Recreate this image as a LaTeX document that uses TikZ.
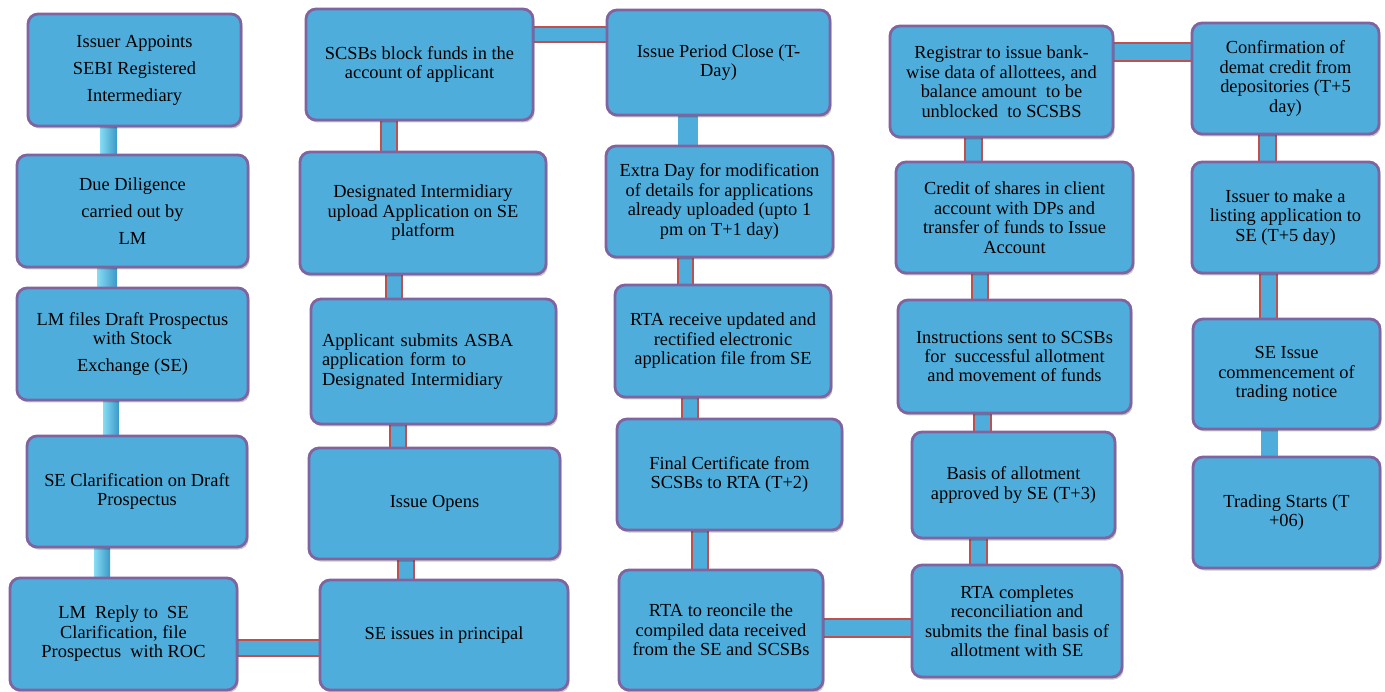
\documentclass[tikz,border=0pt]{standalone}
\usepackage{fontspec}
\setmainfont{Liberation Serif}
\usetikzlibrary{shadows}
\definecolor{boxblue}{HTML}{4FADDB}
\definecolor{boxpurple}{HTML}{8064A2}
\definecolor{barred}{HTML}{C0504D}
\definecolor{tubelight}{HTML}{B4EEFB}
\definecolor{tubemid}{HTML}{86DCF4}
\definecolor{tubedark}{HTML}{3A98C8}
\pgfdeclarelayer{bg}
\pgfsetlayers{bg,main}
\begin{document}
\begin{tikzpicture}[x=1pt,y=-1pt,
  box/.style={rectangle, rounded corners=10pt, draw=boxpurple, line width=2.8pt,
    fill=boxblue, inner sep=0pt, align=center, text=black,
    font=\fontsize{18.4}{19.5}\selectfont,
    drop shadow={shadow xshift=1.5pt, shadow yshift=-2.5pt, opacity=0.22, fill=black}},
  abox/.style={box, font=\fontsize{18.4}{27}\selectfont},
  rbar/.style={draw=barred, line width=2pt, double=boxblue, double distance=#1,
    shorten <=-4pt, shorten >=-4pt},
  pbar/.style={draw=boxblue, line width=#1, shorten <=-4pt, shorten >=-4pt},
  tube/.style={left color=tubemid, middle color=tubelight, right color=tubedark}
]
\useasboundingbox (0,0) rectangle (1385,692);

% Column A
\node[abox, minimum width=213pt, minimum height=112pt] (A1) at (134.5,70) {Issuer Appoints\\SEBI Registered\\Intermediary};
\node[abox, minimum width=231pt, minimum height=112pt] (A2) at (132.5,211) {Due Diligence\\carried out by\\LM};
\node[box, minimum width=231pt, minimum height=112pt] (A3) at (132.5,344) {LM files Draft Prospectus\\with Stock\\[7.5pt]Exchange (SE)};
\node[box, minimum width=220pt, minimum height=111pt] (A4) at (137,491.5) {SE Clarification on Draft\\Prospectus};
\node[box, minimum width=227pt, minimum height=112pt] (A5) at (123.5,634) {LM\ \ Reply to\ \ SE\\Clarification, file\\Prospectus\ \ with ROC};

% Column B
\node[box, minimum width=227pt, minimum height=111pt] (B1) at (419.5,64.5) {SCSBs block funds in the\\account of applicant};
\node[box, minimum width=246pt, minimum height=122pt] (B2) at (423,213) {Designated Intermidiary\\upload Application on SE\\platform};
\node[box, align=left, text width=223pt, inner xsep=11pt, minimum height=125pt] (B3) at (433.5,361.5) {Applicant submits ASBA\\application form to\\Designated Intermidiary};
\node[box, minimum width=251pt, minimum height=111pt] (B4) at (434.5,503.5) {Issue Opens};
\node[box, minimum width=248pt, minimum height=110pt] (B5) at (444,635) {SE issues in principal};

% Column C
\node[box, minimum width=223pt, minimum height=105pt] (C1) at (718.5,62.5) {Issue Period Close (T-\\Day)};
\node[box, minimum width=227pt, minimum height=111pt] (C2) at (719.5,201.5) {Extra Day for modification\\of details for applications\\already uploaded (upto 1\\pm on T+1 day)};
\node[box, minimum width=216pt, minimum height=112pt] (C3) at (723,341) {RTA receive updated and\\rectified electronic\\application file from SE};
\node[box, minimum width=225pt, minimum height=111pt] (C4) at (729.5,474.5) {Final Certificate from\\SCSBs to RTA (T+2)};
\node[box, minimum width=204pt, minimum height=120pt] (C5) at (721,630) {RTA to reoncile the\\compiled data received\\from the SE and SCSBs};

% Column D
\node[box, minimum width=223pt, minimum height=111pt] (D1) at (1001.5,81.5) {Registrar to issue bank-\\wise data of allottees, and\\balance amount\ \ to be\\unblocked\ \ to SCSBS};
\node[box, minimum width=237pt, minimum height=111pt] (D2) at (1014.5,217.5) {Credit of shares in client\\account with DPs and\\transfer of funds to Issue\\Account};
\node[box, minimum width=233pt, minimum height=113pt] (D3) at (1014.5,356.5) {Instructions sent to SCSBs\\for\ \ successful allotment\\and movement of funds};
\node[box, minimum width=203pt, minimum height=106pt] (D4) at (1013.5,485) {Basis of allotment\\approved by SE (T+3)};
\node[box, minimum width=210pt, minimum height=112pt] (D5) at (1017,621) {RTA completes\\reconciliation and\\submits the final basis of\\allotment with SE};

% Column E
\node[box, minimum width=187pt, minimum height=111pt] (E1) at (1285.5,78.5) {Confirmation of\\demat credit from\\depositories (T+5\\day)};
\node[box, minimum width=187pt, minimum height=111pt] (E2) at (1285.5,217.5) {Issuer to make a\\listing application to\\SE (T+5 day)};
\node[box, minimum width=187pt, minimum height=110pt] (E3) at (1286.5,374) {SE Issue\\commencement of\\trading notice};
\node[box, minimum width=187pt, minimum height=111pt] (E4) at (1286.5,512.5) {Trading Starts (T\\+06)};

\begin{pgfonlayer}{bg}
\fill[white] (0,0) rectangle (1385,692);
% tubes in column A
\shade[tube] (A1.south -| 100,0) rectangle (A2.north -| 117,0);
\shade[tube] (A2.south -| 97,0) rectangle (A3.north -| 117,0);
\shade[tube] (A3.south -| 103,0) rectangle (A4.north -| 119,0);
\shade[tube] (A4.south -| 94,0) rectangle (A5.north -| 110,0);
% bars
\draw[rbar=14pt] (A5.east |- 0,648) -- (B5.west |- 0,648);
\draw[rbar=14pt] (B5.north -| 406,0) -- (B4.south -| 406,0);
\draw[rbar=14pt] (B4.north -| 397.5,0) -- (B3.south -| 397.5,0);
\draw[rbar=14pt] (B3.north -| 394,0) -- (B2.south -| 394,0);
\draw[rbar=14pt] (B2.north -| 388.5,0) -- (B1.south -| 388.5,0);
\draw[rbar=13pt] (B1.east |- 0,35) -- (C1.west |- 0,35);
\draw[pbar=20pt] (C1.south -| 688,0) -- (C2.north -| 688,0);
\draw[rbar=13pt] (C2.south -| 685,0) -- (C3.north -| 685,0);
\draw[rbar=14pt] (C3.south -| 690,0) -- (C4.north -| 690,0);
\draw[rbar=14pt] (C4.south -| 700,0) -- (C5.north -| 700,0);
\draw[rbar=16pt] (C5.east |- 0,628) -- (D5.west |- 0,628);
\draw[rbar=15pt] (D5.north -| 978.5,0) -- (D4.south -| 978.5,0);
\draw[rbar=15pt] (D4.north -| 982.5,0) -- (D3.south -| 982.5,0);
\draw[rbar=14pt] (D3.north -| 980,0) -- (D2.south -| 980,0);
\draw[rbar=15pt] (D2.north -| 973.5,0) -- (D1.south -| 973.5,0);
\draw[rbar=16pt] (D1.east |- 0,52) -- (E1.west |- 0,52);
\draw[rbar=15pt] (E1.south -| 1267.5,0) -- (E2.north -| 1267.5,0);
\draw[rbar=15pt] (E2.south -| 1268.5,0) -- (E3.north -| 1268.5,0);
\draw[pbar=17pt] (E3.south -| 1269.5,0) -- (E4.north -| 1269.5,0);
\end{pgfonlayer}
\end{tikzpicture}
\end{document}
